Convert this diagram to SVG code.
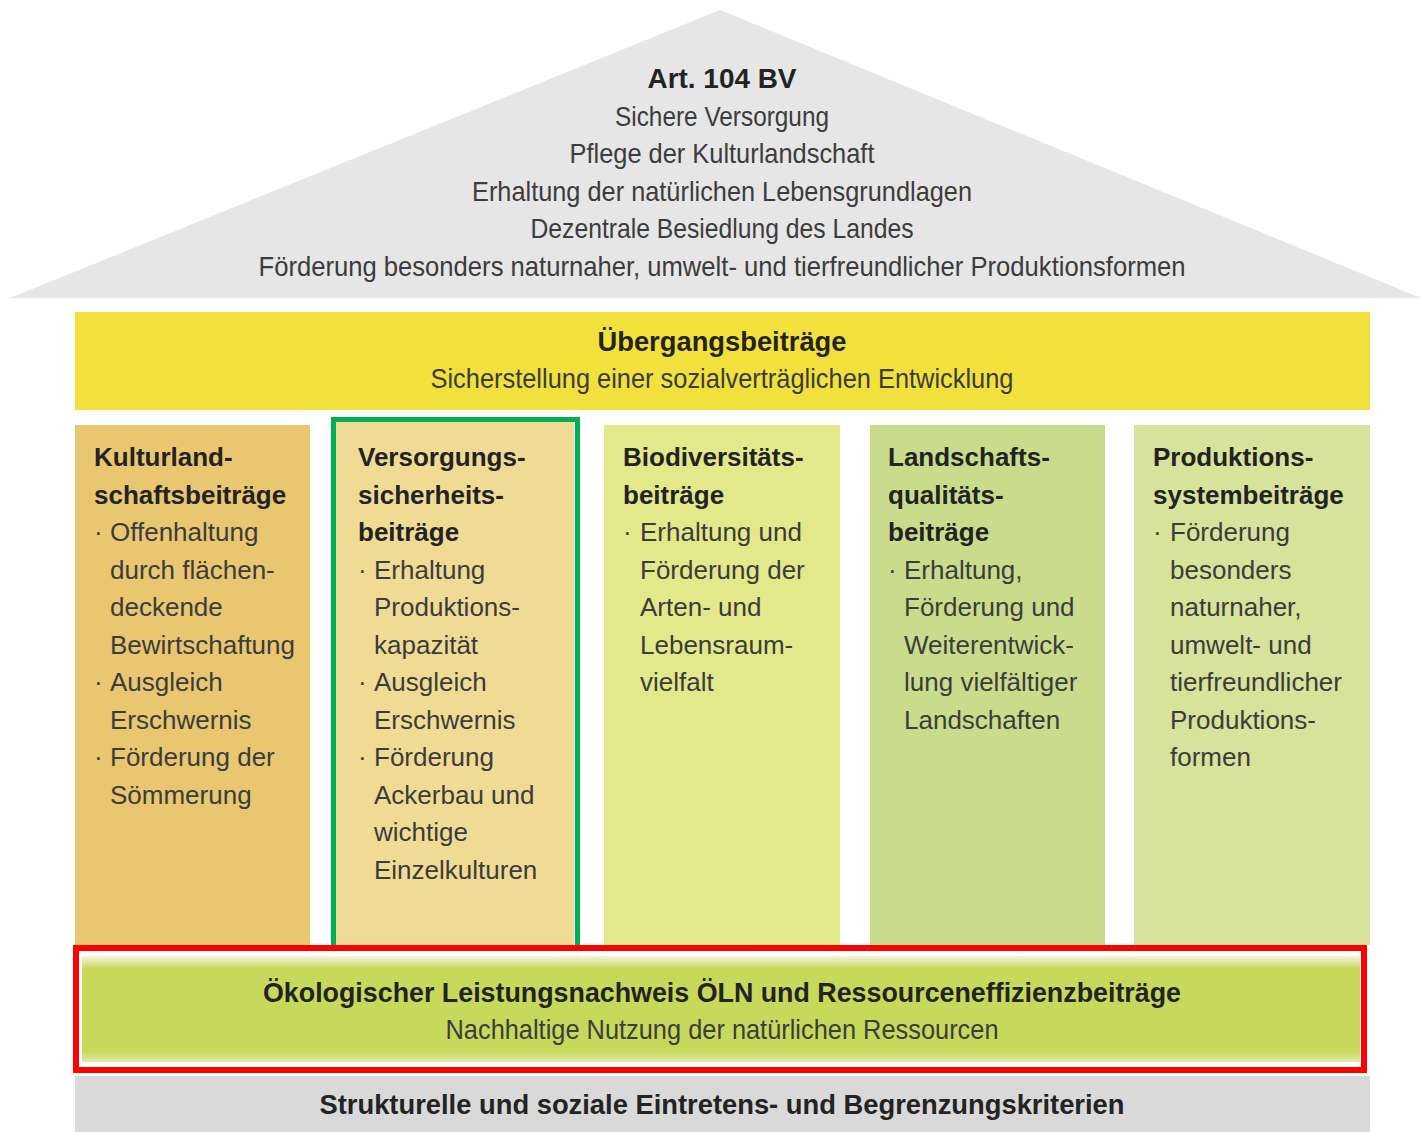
<svg xmlns="http://www.w3.org/2000/svg" width="1421" height="1132" viewBox="0 0 1421 1132">
<style>
text{font-family:"Liberation Sans",Arial,sans-serif;fill:#3c3c3c;font-size:26px}
.b{font-weight:bold;fill:#232323}
.c{text-anchor:middle}
.r{font-size:28px}
</style>
<defs>
<linearGradient id="gb" x1="0" y1="0" x2="0" y2="1">
<stop offset="0" stop-color="#f4f7dc"/><stop offset="0.12" stop-color="#c6d95a"/><stop offset="0.9" stop-color="#c6d95a"/><stop offset="1" stop-color="#e2ebb0"/>
</linearGradient>
</defs>
<rect width="1421" height="1132" fill="#ffffff"/>
<g id="roof">
<polygon points="720,10 10,298 1421,298" fill="#e6e6e6"/>
<text class="b c r" x="722" y="88" textLength="149" lengthAdjust="spacingAndGlyphs">Art. 104 BV</text>
<text class="c r" x="722" y="126" textLength="214" lengthAdjust="spacingAndGlyphs">Sichere Versorgung</text>
<text class="c r" x="722" y="163" textLength="305" lengthAdjust="spacingAndGlyphs">Pflege der Kulturlandschaft</text>
<text class="c r" x="722" y="201" textLength="500" lengthAdjust="spacingAndGlyphs">Erhaltung der natürlichen Lebensgrundlagen</text>
<text class="c r" x="722" y="238" textLength="383" lengthAdjust="spacingAndGlyphs">Dezentrale Besiedlung des Landes</text>
<text class="c r" x="722" y="276" textLength="927" lengthAdjust="spacingAndGlyphs">Förderung besonders naturnaher, umwelt- und tierfreundlicher Produktionsformen</text>
</g>
<g id="uebergang">
<rect x="75" y="312" width="1295" height="98" fill="#f2e13c"/>
<text class="b c r" x="722" y="351" textLength="249" lengthAdjust="spacingAndGlyphs">Übergangsbeiträge</text>
<text class="c r" x="722" y="388" textLength="583" lengthAdjust="spacingAndGlyphs">Sicherstellung einer sozialverträglichen Entwicklung</text>
</g>
<g id="kulturland">
<rect x="75" y="425" width="235" height="520" fill="#e9c670"/>
<text class="b" x="94" y="466">Kulturland-</text>
<text class="b" x="94" y="503.5">schaftsbeiträge</text>
<text x="94" y="541">·</text><text x="110" y="541">Offenhaltung</text>
<text x="110" y="578.5">durch flächen-</text>
<text x="110" y="616">deckende</text>
<text x="110" y="653.5">Bewirtschaftung</text>
<text x="94" y="691">·</text><text x="110" y="691">Ausgleich</text>
<text x="110" y="728.5">Erschwernis</text>
<text x="94" y="766">·</text><text x="110" y="766">Förderung der</text>
<text x="110" y="803.5">Sömmerung</text>
</g>
<g id="versorgung">
<rect x="336" y="422" width="238" height="523" fill="#f0db94"/>
<rect x="333.5" y="419.5" width="244" height="528" fill="none" stroke="#00b050" stroke-width="5"/>
<text class="b" x="358" y="466">Versorgungs-</text>
<text class="b" x="358" y="503.5">sicherheits-</text>
<text class="b" x="358" y="541">beiträge</text>
<text x="358" y="578.5">·</text><text x="374" y="578.5">Erhaltung</text>
<text x="374" y="616">Produktions-</text>
<text x="374" y="653.5">kapazität</text>
<text x="358" y="691">·</text><text x="374" y="691">Ausgleich</text>
<text x="374" y="728.5">Erschwernis</text>
<text x="358" y="766">·</text><text x="374" y="766">Förderung</text>
<text x="374" y="803.5">Ackerbau und</text>
<text x="374" y="841">wichtige</text>
<text x="374" y="878.5">Einzelkulturen</text>
</g>
<g id="biodiversitaet">
<rect x="604" y="425" width="236" height="520" fill="#e3e88a"/>
<text class="b" x="623" y="466">Biodiversitäts-</text>
<text class="b" x="623" y="503.5">beiträge</text>
<text x="623" y="541">·</text><text x="640" y="541">Erhaltung und</text>
<text x="640" y="578.5">Förderung der</text>
<text x="640" y="616">Arten- und</text>
<text x="640" y="653.5">Lebensraum-</text>
<text x="640" y="691">vielfalt</text>
</g>
<g id="landschaft">
<rect x="870" y="425" width="235" height="520" fill="#c9dc8b"/>
<text class="b" x="888" y="466">Landschafts-</text>
<text class="b" x="888" y="503.5">qualitäts-</text>
<text class="b" x="888" y="541">beiträge</text>
<text x="888" y="578.5">·</text><text x="904" y="578.5">Erhaltung,</text>
<text x="904" y="616">Förderung und</text>
<text x="904" y="653.5">Weiterentwick-</text>
<text x="904" y="691">lung vielfältiger</text>
<text x="904" y="728.5">Landschaften</text>
</g>
<g id="produktion">
<rect x="1134" y="425" width="236" height="520" fill="#d7e29a"/>
<text class="b" x="1153" y="466">Produktions-</text>
<text class="b" x="1153" y="503.5">systembeiträge</text>
<text x="1153" y="541">·</text><text x="1170" y="541">Förderung</text>
<text x="1170" y="578.5">besonders</text>
<text x="1170" y="616">naturnaher,</text>
<text x="1170" y="653.5">umwelt- und</text>
<text x="1170" y="691">tierfreundlicher</text>
<text x="1170" y="728.5">Produktions-</text>
<text x="1170" y="766">formen</text>
</g>
<g id="oeln">
<rect x="76" y="948" width="1288" height="122" fill="#ffffff"/>
<rect x="82" y="956" width="1278" height="106" fill="url(#gb)"/>
<rect x="76" y="948" width="1288" height="122" fill="none" stroke="#ff0000" stroke-width="6"/>
<text class="b c r" x="722" y="1002" textLength="918" lengthAdjust="spacingAndGlyphs">Ökologischer Leistungsnachweis ÖLN und Ressourceneffizienzbeiträge</text>
<text class="c r" x="722" y="1039" textLength="553" lengthAdjust="spacingAndGlyphs">Nachhaltige Nutzung der natürlichen Ressourcen</text>
</g>
<g id="kriterien">
<rect x="75" y="1076" width="1295" height="56" fill="#d9d9d9"/>
<text class="b c r" x="722" y="1114" textLength="805" lengthAdjust="spacingAndGlyphs">Strukturelle und soziale Eintretens- und Begrenzungskriterien</text>
</g>
<g id="connectors"/>
</svg>
